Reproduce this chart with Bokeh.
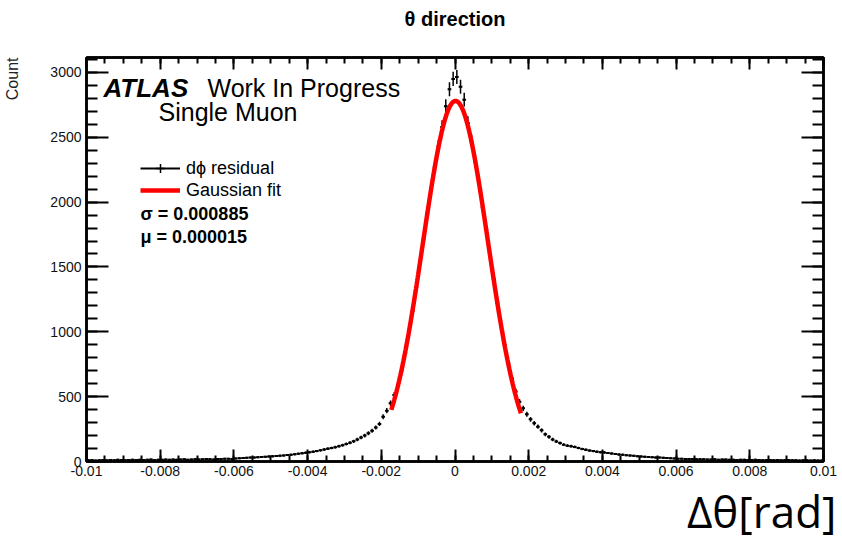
import numpy as np
from bokeh.plotting import figure
from bokeh.models import Range1d, LinearAxis, FixedTicker, Label, Legend, LegendItem, ColumnDataSource, Title
from bokeh.embed import file_html
from bokeh.resources import INLINE

# ---------------- data ----------------
bin_lo = -0.01
bin_width = 0.0001
counts = (
    [9, 11, 8, 10, 12, 9, 11, 10, 13, 12, 10, 11, 13, 12, 14, 11, 13, 15, 12, 14,
     13, 15, 14, 16, 13, 15, 17, 14, 16, 18, 15, 17, 19, 18, 16, 20, 19, 21, 22, 20]
    + [24, 25, 27, 28, 30, 31, 33, 35, 36, 38, 40, 42, 45, 47, 50, 53, 56, 59, 63, 67]
    + [72, 76, 80, 86, 92, 99, 104, 110, 118, 126, 135, 145, 156, 170, 185, 200, 218, 238, 262, 290]
    + [345, 392, 450, 512, 590, 700, 838, 995, 1160, 1345, 1525, 1720, 1915, 2090, 2270, 2430, 2580, 2740, 2870, 2950]
    + [2965, 2890, 2790, 2610, 2470, 2310, 2140, 1960, 1785, 1590, 1410, 1225, 1055, 895, 755, 640, 540, 460, 410, 365]
    + [325, 295, 268, 240, 210, 190, 170, 155, 142, 130, 122, 118, 112, 104, 96, 90, 84, 80, 76, 72]
    + [70, 66, 62, 58, 54, 52, 49, 46, 44, 41, 39, 37, 35, 33, 31, 30, 28, 27, 26, 24]
    + [22, 21, 20, 19, 20, 18, 17, 18, 16, 15, 17, 14, 15, 16, 13, 14, 12, 13, 14, 12,
       11, 13, 12, 10, 11, 12, 10, 11, 9, 10, 11, 9, 10, 8, 9, 10, 8, 9, 7, 8]
)

x_ticks = [-0.01, -0.008, -0.006, -0.004, -0.002, 0.0, 0.002, 0.004, 0.006, 0.008, 0.01]
x_tick_labels = ["-0.01", "-0.008", "-0.006", "-0.004", "-0.002", "0",
                 "0.002", "0.004", "0.006", "0.008", "0.01"]
y_ticks = [0, 500, 1000, 1500, 2000, 2500, 3000]
y_tick_labels = ["0", "500", "1000", "1500", "2000", "2500", "3000"]

fit_sigma = 0.000885
fit_mu = 0.000015
fit_amp = 2780
fit_lo, fit_hi = -0.00173, 0.00179

title_text = "θ direction"
y_label = "Count"
x_label = "Δθ[rad]"
legend_labels = ["dϕ residual", "Gaussian fit"]
sigma_text = "σ = 0.000885"
mu_text = "μ = 0.000015"

# ---------------- derived ----------------
counts = np.array(counts, dtype=float)
left = bin_lo + bin_width * np.arange(len(counts))
right = left + bin_width
center = left + bin_width / 2
err = np.sqrt(counts)
src = ColumnDataSource(dict(left=left, right=right, center=center, y=counts,
                            ylo=counts - err, yhi=counts + err))

XMIN, XMAX = -0.01, 0.01
YMAX = 3115

# frame geometry (page pixels) used to place text labels inside the frame
FX0, FX1 = 86, 823
FY0, FY1 = 461, 57
def dx(px):
    return XMIN + (px - FX0) / (FX1 - FX0) * (XMAX - XMIN)
def dy(py):
    return (FY0 - py) / (FY0 - FY1) * YMAX

W, H = 842, 542
p = figure(width=W, height=H, x_range=Range1d(XMIN, XMAX), y_range=Range1d(0, YMAX),
           toolbar_location=None, output_backend="svg",
           min_border_left=FX0, min_border_right=W - FX1, min_border_top=FY1, min_border_bottom=H - FY0)
p.xgrid.visible = False
p.ygrid.visible = False
p.outline_line_color = "black"
p.outline_line_width = 2.5
p.background_fill_color = "white"
p.border_fill_color = "white"

xt = FixedTicker(ticks=x_ticks, minor_ticks=list(np.round(np.arange(-0.01, 0.01001, 0.0005), 6)))
yt = FixedTicker(ticks=y_ticks, minor_ticks=list(range(0, 3101, 100)))

TICKFONT = "Liberation Sans"

def style_axis(ax, tin, min_in, labels):
    ax.axis_line_width = 2.5
    ax.axis_line_color = "black"
    ax.major_tick_in = tin
    ax.major_tick_out = 0
    ax.minor_tick_in = min_in
    ax.minor_tick_out = 0
    ax.major_tick_line_width = 2
    ax.minor_tick_line_width = 2
    ax.major_tick_line_color = "black"
    ax.minor_tick_line_color = "black"
    if labels:
        ax.major_label_text_font = TICKFONT
        ax.major_label_text_font_size = "14px"
        ax.major_label_text_color = "#111111"
    else:
        ax.major_label_text_font_size = "0px"
        ax.major_label_standoff = 0

xa = p.xaxis[0]
xa.ticker = xt
xa.major_label_overrides = {t: l for t, l in zip(x_ticks, x_tick_labels)}
xa.major_label_standoff = 4
style_axis(xa, 12, 6, True)

ya = p.yaxis[0]
ya.ticker = yt
ya.major_label_overrides = {t: l for t, l in zip(y_ticks, y_tick_labels)}
ya.major_label_standoff = 5
style_axis(ya, 22, 11, True)

ax_top = LinearAxis(ticker=xt)
style_axis(ax_top, 12, 6, False)
p.add_layout(ax_top, "above")
ax_right = LinearAxis(ticker=yt)
style_axis(ax_right, 22, 11, False)
p.add_layout(ax_right, "right")

# histogram: bin-width horizontal bars + sqrt(N) error bars
h_r = p.segment(x0="left", y0="y", x1="right", y1="y", source=src, line_color="black", line_width=2)
e_r = p.segment(x0="center", y0="ylo", x1="center", y1="yhi", source=src, line_color="black", line_width=1.5)
pt_r = p.scatter(x="center", y="y", source=src, marker="cross", size=2, line_color="black", line_width=1.5)

# Gaussian fit
fx = np.linspace(fit_lo, fit_hi, 300)
fy = fit_amp * np.exp(-0.5 * ((fx - fit_mu) / fit_sigma) ** 2)
fit_r = p.line(fx, fy, line_color="red", line_width=4.5)

legend = Legend(items=[LegendItem(label=legend_labels[0], renderers=[h_r, pt_r]),
                       LegendItem(label=legend_labels[1], renderers=[fit_r])],
                location=(54, 260), orientation="vertical",
                border_line_color=None, background_fill_alpha=0,
                glyph_width=40, glyph_height=22, label_height=22,
                label_text_font=TICKFONT, label_text_font_size="18px", label_text_color="black",
                label_standoff=6, spacing=0, padding=0, margin=0)
p.add_layout(legend)

def lab(text, px, py, size, style="normal", align="left", baseline="middle", font=TICKFONT):
    p.add_layout(Label(x=dx(px), y=dy(py), text=text, text_font=font, text_font_size=size,
                       text_font_style=style, text_align=align, text_baseline=baseline,
                       text_color="black"))

lab("ATLAS", 103, 87, "26px", style="bold italic")
lab("Work In Progress", 207, 87, "25px")
lab("Single Muon", 158, 111, "25px")
lab(sigma_text, 140, 213, "18px", style="bold")
lab(mu_text, 140, 236, "18px", style="bold")

# texts outside the frame: titles in the side panels (blank spacer titles set their distance)
p.add_layout(Title(text=" ", text_font_size="1px", standoff=25), "above")
p.add_layout(Title(text=title_text, align="center", text_font=TICKFONT, text_font_size="20px",
                   text_font_style="bold", text_color="black", standoff=0), "above")
p.add_layout(Title(text=" ", text_font_size="1px", standoff=24), "left")
p.add_layout(Title(text=y_label, align="right", text_font=TICKFONT, text_font_size="16px",
                   text_font_style="normal", text_color="#222222", standoff=0), "left")
p.add_layout(Title(text=x_label, align="right", text_font="Open Sans", text_font_size="44px",
                   text_font_style="normal", text_color="black", standoff=0, offset=-13), "below")

open("out.html", "w").write(file_html(p, INLINE))
